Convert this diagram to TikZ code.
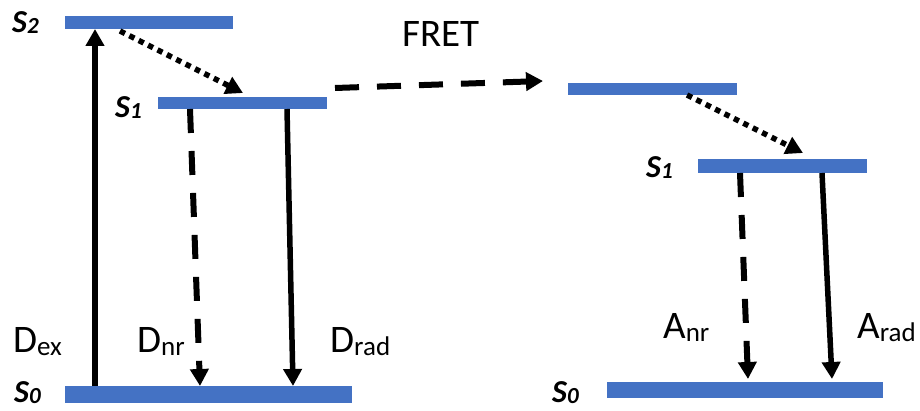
\documentclass[tikz,border=0pt]{standalone}
\usepackage{fontspec}
\setmainfont{Carlito}
\usetikzlibrary{arrows.meta}
\definecolor{barblue}{HTML}{4472C4}
\newcommand{\mylab}[2]{{\fontsize{39}{41}\selectfont #1}{\fontsize{27}{29}\selectfont\raisebox{-3pt}{#2}}}
\newcommand{\mystate}[2]{{\fontsize{32}{34}\selectfont\bfseries\itshape #1}{\fontsize{23}{25}\selectfont\bfseries\itshape\raisebox{-1pt}{#2}}}
\tikzset{
  bar/.style={fill=barblue, draw=none, rectangle, inner sep=0pt},
  tip/.style={-{Triangle[length=17pt,width=18pt]}},
  solidarrow/.style={tip, line width=5.5pt},
  dasharrow/.style={tip, line width=6pt, dash pattern=on 24pt off 18pt},
  dotarrow/.style={tip, line width=5.5pt, dash pattern=on 5.5pt off 5pt},
  lab/.style={anchor=base west, inner sep=0pt},
}
\begin{document}
\begin{tikzpicture}[x=1pt,y=-1pt]
\useasboundingbox (0,0) rectangle (920,411);
% bars
\node[bar, minimum width=168pt, minimum height=13pt] (s2d) at (149,22.5) {};
\node[bar, minimum width=169pt, minimum height=12pt] (s1d) at (242.5,103) {};
\node[bar, minimum width=287pt, minimum height=17pt] (s0d) at (208.5,394) {};
\node[bar, minimum width=169pt, minimum height=12pt] (s2a) at (652.5,89) {};
\node[bar, minimum width=169pt, minimum height=14pt] (s1a) at (782.5,166) {};
\node[bar, minimum width=276pt, minimum height=16pt] (s0a) at (745,390) {};
% state labels
\node[lab] (ls2) at (12,33) {\mystate{S}{2}};
\node[lab] (ls1d) at (115,118) {\mystate{S}{1}};
\node[lab] (ls0d) at (14,402) {\mystate{S}{0}};
\node[lab] (ls1a) at (646,178) {\mystate{S}{1}};
\node[lab] (ls0a) at (552,402) {\mystate{S}{0}};
% connector end points
\coordinate (dexa) at (95,386);
\coordinate (dexb) at (95,29);
\coordinate (ica) at (120,31);
\coordinate (icb) at (243,93);
\coordinate (dnra) at (190,109);
\coordinate (dnrb) at (200,386);
\coordinate (drada) at (287,109);
\coordinate (dradb) at (293,386);
\coordinate (freta) at (335,88);
\coordinate (fretb) at (543,81);
\coordinate (icc) at (687,95);
\coordinate (icd) at (803,153);
\coordinate (anra) at (740,173);
\coordinate (anrb) at (748,379);
\coordinate (arada) at (822,173);
\coordinate (aradb) at (832,379);
% arrows
\draw[solidarrow] (dexa) -- (dexb);
\draw[dotarrow] (ica) -- (icb);
\draw[dasharrow] (dnra) -- (dnrb);
\draw[solidarrow] (drada) -- (dradb);
\draw[dasharrow] (freta) -- (fretb);
\draw[dotarrow] (icc) -- (icd);
\draw[dasharrow] (anra) -- (anrb);
\draw[solidarrow] (arada) -- (aradb);
% labels
\node[anchor=base, inner sep=0pt] (fret) at (441,47) {\fontsize{39}{41}\selectfont FRET};
\node[lab] (ldex) at (13,352) {\mylab{D}{ex}};
\node[lab] (ldnr) at (137,352) {\mylab{D}{nr}};
\node[lab] (ldrad) at (330,352) {\mylab{D}{rad}};
\node[lab] (lanr) at (663,338) {\mylab{A}{nr}};
\node[lab] (larad) at (857,338) {\mylab{A}{rad}};
\end{tikzpicture}
\end{document}
